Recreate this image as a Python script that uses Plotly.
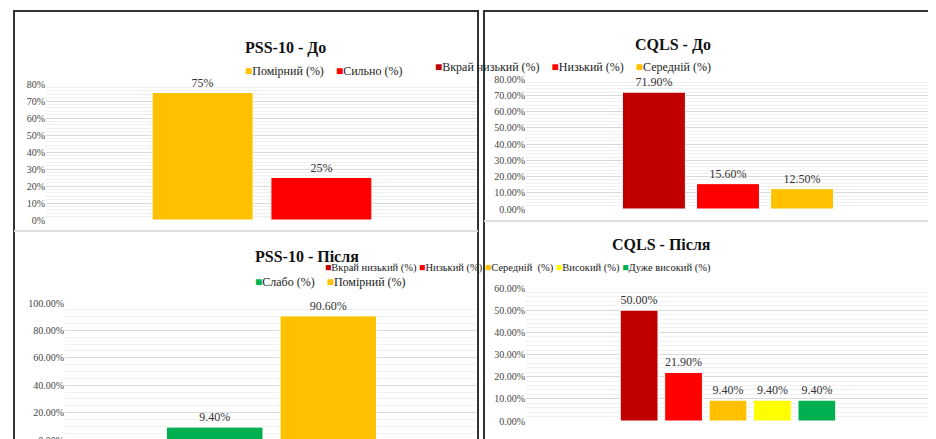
import plotly.graph_objects as go

W, H = 936, 439

# PSS-10 before
pss_before_names = ["Помірний (%)", "Сильно (%)"]
pss_before_vals = [0.75, 0.25]
pss_before_cols = ["#FFC000", "#FF0000"]

# PSS-10 after
pss_after_names = ["Слабо (%)", "Помірний (%)"]
pss_after_vals = [0.094, 0.906]
pss_after_cols = ["#00B050", "#FFC000"]

# CQLS before
cqls_before_names = ["Вкрай низький (%)", "Низький (%)", "Середній (%)"]
cqls_before_vals = [0.719, 0.156, 0.125]
cqls_before_cols = ["#C00000", "#FF0000", "#FFC000"]

# CQLS after
cqls_after_names = ["Вкрай низький (%)", "Низький (%)", "Середній  (%)", "Високий (%)", "Дуже високий (%)"]
cqls_after_vals = [0.50, 0.219, 0.094, 0.094, 0.094]
cqls_after_cols = ["#C00000", "#FF0000", "#FFC000", "#FFFF00", "#00B050"]

SERIF = "Liberation Serif"


def px(x):
    return x / W


def py(y):
    return 1 - y / H


fig = go.Figure()

panels = [
    # names, vals, cols, axis suffix, text fmt, legend pos, legend font size, spacer
    (pss_before_names, pss_before_vals, pss_before_cols, "", "%{y:.0%}", (235, 54), 12, "&nbsp;&nbsp;&nbsp;&nbsp;"),
    (pss_after_names, pss_after_vals, pss_after_cols, "2", "%{y:.2%}", (245, 274), 12, "&nbsp;&nbsp;&nbsp;&nbsp;"),
    (cqls_before_names, cqls_before_vals, cqls_before_cols, "3", "%{y:.2%}", (705, 50), 12, "&nbsp;&nbsp;&nbsp;&nbsp;"),
    (cqls_after_names, cqls_after_vals, cqls_after_cols, "4", "%{y:.2%}", (705, 260), 10.5, "&nbsp;"),
]

for names, vals, cols, ax, fmt, (lx, ly), lsize, sp in panels:
    for n, v, c in zip(names, vals, cols):
        fig.add_trace(go.Bar(
            x=[""], y=[v], name=n, marker_color=c,
            marker_line=dict(color="white", width=1),
            text=[v], texttemplate=fmt, textposition="outside",
            textfont=dict(family=SERIF, size=12, color="#333"),
            cliponaxis=False, showlegend=False,
            xaxis="x" + ax, yaxis="y" + ax,
        ))
    items = ["<span style='color:%s'>■</span>%s" % (c, n) for n, c in zip(names, cols)]
    fig.add_annotation(text=sp.join(items), x=px(lx), y=py(ly), xref="paper", yref="paper",
                       showarrow=False, font=dict(family=SERIF, size=lsize, color="#222"))

grid = dict(showgrid=True, gridcolor="#D9D9D9", gridwidth=1, automargin=False,
            tickfont=dict(family=SERIF, size=10, color="#444"),
            zeroline=False, fixedrange=True,
            minor=dict(showgrid=True, gridcolor="#F0F0F0", nticks=5))
xcommon = dict(showticklabels=False, showgrid=False, zeroline=False, automargin=False)

fig.update_layout(
    width=W, height=H, margin=dict(l=0, r=0, t=0, b=0),
    paper_bgcolor="white", plot_bgcolor="white",
    barmode="group", showlegend=False, bargap=0.45, bargroupgap=0.15,
    xaxis=dict(domain=[px(38), px(470)], anchor="y", **xcommon),
    yaxis=dict(domain=[py(212), py(76)], range=[0, 0.8], dtick=0.1, tickformat=".0%", anchor="x", **grid),
    xaxis2=dict(domain=[px(57), px(470)], anchor="y2", **xcommon),
    yaxis2=dict(domain=[py(432), py(295)], range=[0, 1.0], dtick=0.2, tickformat=".2%", anchor="x2", **grid),
    xaxis3=dict(domain=[px(518), px(922)], anchor="y3", **xcommon),
    yaxis3=dict(domain=[py(201), py(71)], range=[0, 0.8], dtick=0.1, tickformat=".2%", anchor="x3", **grid),
    xaxis4=dict(domain=[px(518), px(922)], anchor="y4", **xcommon),
    yaxis4=dict(domain=[py(413), py(280)], range=[0, 0.6], dtick=0.1, tickformat=".2%", anchor="x4", **grid),
)

titles = [("PSS-10 - До", 235, 29), ("PSS-10 - Після", 245, 248),
          ("CQLS - До", 705, 26), ("CQLS - Після", 705, 236)]
for t, x, y in titles:
    fig.add_annotation(text="<b>" + t + "</b>", x=px(x), y=py(y), xref="paper", yref="paper",
                       showarrow=False, font=dict(family=SERIF, size=16, color="#111"))

# panel borders and separators
shapes = [
    dict(type="rect", x0=px(6), x1=px(470), y0=py(433), y1=py(3), line=dict(color="#333", width=2)),
    dict(type="rect", x0=px(476), x1=px(930), y0=py(433), y1=py(3), line=dict(color="#333", width=2)),
    dict(type="line", x0=px(6), x1=px(470), y0=py(223), y1=py(223), line=dict(color="#DDD", width=2)),
    dict(type="line", x0=px(476), x1=px(930), y0=py(213), y1=py(213), line=dict(color="#DDD", width=2)),
]
for s in shapes:
    s.update(xref="paper", yref="paper")
    fig.add_shape(s)

fig.write_html("out.html")
